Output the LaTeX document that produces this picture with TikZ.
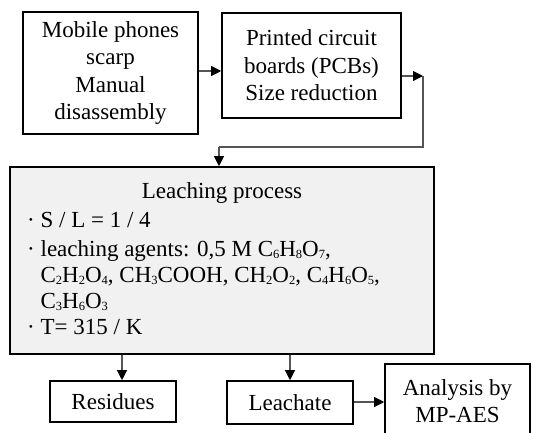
\documentclass[tikz,border=0pt]{standalone}
\usepackage{fontspec}
\setmainfont{Liberation Serif}
\usetikzlibrary{arrows.meta}
\definecolor{boxfill}{HTML}{F1F1F1}
\definecolor{conncol}{HTML}{555555}
\tikzset{
  box/.style={draw=black, line width=1.6pt, inner sep=0pt, align=center, font=\fontsize{23}{27.5}\selectfont},
  conn/.style={draw=conncol, line width=1.1pt},
  arr/.style={conn, -{Triangle[length=10pt,width=10pt,fill=black,color=black]}},
  txt/.style={inner sep=0pt, font=\fontsize{23}{27}\selectfont}
}
\newcommand{\bul}{·\ }
\newcommand{\ind}{\hphantom{·\ }}
\newcommand{\sbs}[1]{\raisebox{-0.12em}{\fontsize{12.5}{13}\selectfont #1}}
\begin{document}
\begin{tikzpicture}[x=1pt,y=-1pt]
\useasboundingbox (0,0) rectangle (533,432);
\clip (0,0) rectangle (533,432);
\fill[white] (0,0) rectangle (533,432);
% boxes
\node[box, minimum width=175pt, minimum height=122pt] (b1) at (110.5,73) {Mobile phones\\scarp\\Manual\\disassembly};
\node[box, minimum width=179pt, minimum height=105pt] (b2) at (311.5,65.5) {Printed circuit\\boards (PCBs)\\Size reduction};
\node[box, fill=boxfill, minimum width=424pt, minimum height=187pt] (b3) at (222,260.5) {};
\node[txt, anchor=base] (t0) at (222,198) {Leaching process};
\node[txt, anchor=base west] (t1) at (27,227) {\bul S / L = 1 / 4};
\node[txt, anchor=base west] (t2) at (27,256) {\bul leaching agents: 0,5 M C\sbs{6}H\sbs{8}O\sbs{7},};
\node[txt, anchor=base west] (t3) at (27,282) {\ind C\sbs{2}H\sbs{2}O\sbs{4}, CH\sbs{3}COOH, CH\sbs{2}O\sbs{2}, C\sbs{4}H\sbs{6}O\sbs{5},};
\node[txt, anchor=base west] (t4) at (27,308) {\ind C\sbs{3}H\sbs{6}O\sbs{3}};
\node[txt, anchor=base west] (t5) at (27,334) {\bul T= 315 / K};
\node[box, minimum width=126pt, minimum height=41pt] (res) at (113,401.5) {Residues};
\node[box, minimum width=126pt, minimum height=43pt] (lea) at (290,402.5) {Leachate};
\node[box, minimum width=145pt, minimum height=74pt] (ana) at (457.5,401) {Analysis by\\MP-AES};
% connectors
\coordinate (a1) at (0,71);
\draw[arr] (b1.east |- a1) -- (b2.west |- a1);
\coordinate (c1) at (423,76);
\coordinate (c2) at (423,147);
\coordinate (c3) at (219,147);
\draw[arr] (b2.east |- c1) -- (c1);
\draw[conn] (c1) -- (c2) -- (c3);
\draw[arr] (c3) -- (c3 |- b3.north);
\coordinate (d1) at (122,0);
\coordinate (d2) at (290,0);
\draw[arr] (b3.south -| d1) -- (res.north -| d1);
\draw[arr] (b3.south -| d2) -- (lea.north -| d2);
\coordinate (e1) at (0,402);
\draw[arr] (lea.east |- e1) -- (ana.west |- e1);
\end{tikzpicture}
\end{document}
